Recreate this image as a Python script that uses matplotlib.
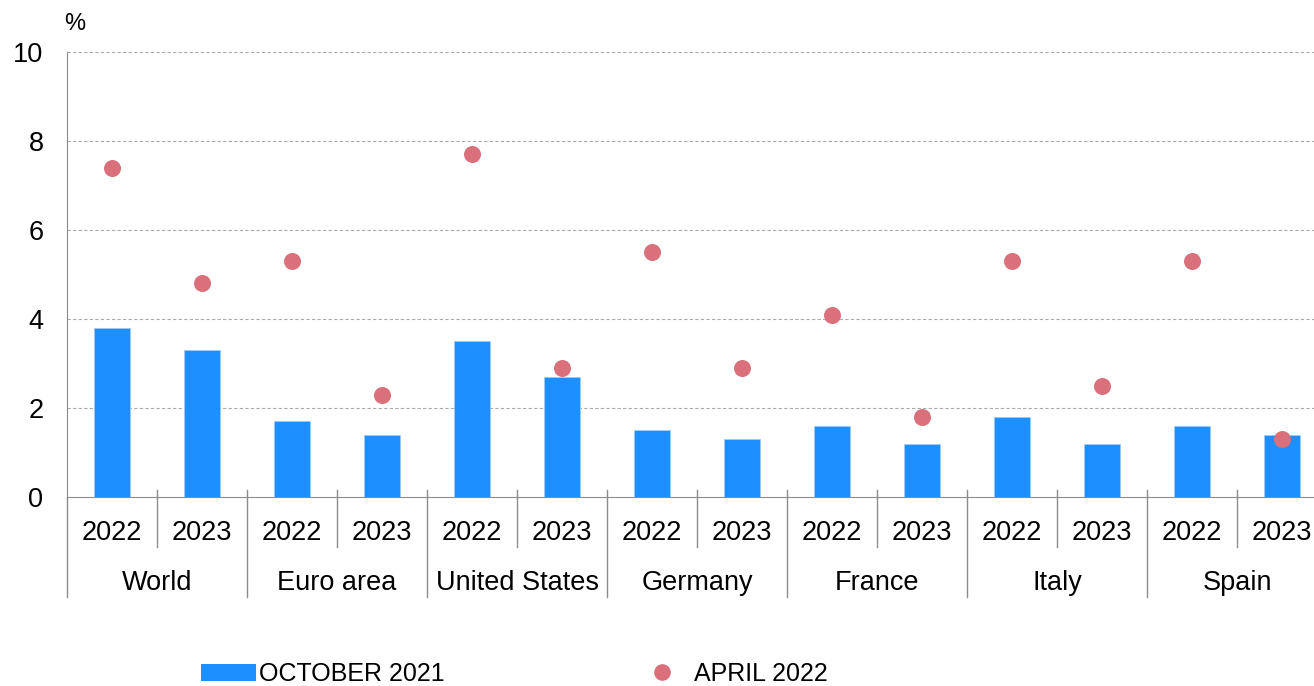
import matplotlib.pyplot as plt
import matplotlib.transforms as mtransforms
from matplotlib.patches import Patch
from matplotlib.lines import Line2D
import numpy as np

plt.rcParams['font.family'] = ['Liberation Sans', 'DejaVu Sans']

countries = ['World', 'Euro area', 'United States', 'Germany', 'France', 'Italy', 'Spain']
years = ['2022', '2023']
october_2021 = [3.8, 3.3, 1.7, 1.4, 3.5, 2.7, 1.5, 1.3, 1.6, 1.2, 1.8, 1.2, 1.6, 1.4]
april_2022 = [7.4, 4.8, 5.3, 2.3, 7.7, 2.9, 5.5, 2.9, 4.1, 1.8, 5.3, 2.5, 5.3, 1.3]

bar_color = '#1E8FFF'
dot_color = '#D9707B'
line_grey = '#8C8C8C'

fig = plt.figure(figsize=(13.14, 6.86), dpi=100)
ax = fig.add_axes([67 / 1314, 1 - 497 / 686, 1260 / 1314, 445 / 686])

x = np.arange(len(october_2021))
ax.bar(x, october_2021, width=0.4, color=bar_color, edgecolor='#9CCBFF', linewidth=0.6, zorder=2)
ax.scatter(x, april_2022, s=150, color=dot_color, zorder=3, linewidths=0)

ax.set_xlim(-0.5, len(x) - 0.5)
ax.set_ylim(0, 10)
ax.set_yticks([0, 2, 4, 6, 8, 10])
ax.tick_params(axis='y', length=0, pad=17, labelsize=19.5)
ax.set_xticks([])
for yv in [2, 4, 6, 8, 10]:
    ax.axhline(yv, color='#AAAAAA', linestyle=(0, (3, 2)), linewidth=0.8, zorder=1)

for s in ['top', 'right']:
    ax.spines[s].set_visible(False)
ax.spines['bottom'].set_color(line_grey)
ax.spines['left'].set_color(line_grey)
ax.spines['left'].set_bounds(0, 10)

trans = mtransforms.blended_transform_factory(ax.transData, ax.transAxes)
# left spine extension
ax.plot([-0.5, -0.5], [0, -0.2247], transform=trans, color=line_grey, lw=1, clip_on=False)
for i in range(len(x)):
    ax.text(i, -0.081, years[i % 2], transform=trans, ha='center', va='center', fontsize=19.5)
    edge = i + 0.5
    if i % 2 == 0:
        ax.plot([edge, edge], [0.0157, -0.112], transform=trans, color=line_grey, lw=1, clip_on=False)
    else:
        ax.plot([edge, edge], [0.0157, -0.2247], transform=trans, color=line_grey, lw=1, clip_on=False)
for j, c in enumerate(countries):
    ax.text(2 * j + 0.5, -0.193, c, transform=trans, ha='center', va='center', fontsize=19.5)

fig.text(75 / 1314, 1 - 24 / 686, '%', fontsize=17, ha='center', va='center')

handles = [Patch(facecolor=bar_color, edgecolor='none'),
           Line2D([], [], marker='o', color='none', markerfacecolor=dot_color,
                  markeredgecolor='none', markersize=12)]
fig.legend(handles, ['OCTOBER 2021', 'APRIL 2022'], ncol=2, frameon=False,
           loc='center left', bbox_to_anchor=(178 / 1314, 1 - 674 / 686),
           fontsize=18, handlelength=2.2, handleheight=0.7, handletextpad=0.15,
           columnspacing=7.6)

fig.savefig('out.png', dpi=100)
